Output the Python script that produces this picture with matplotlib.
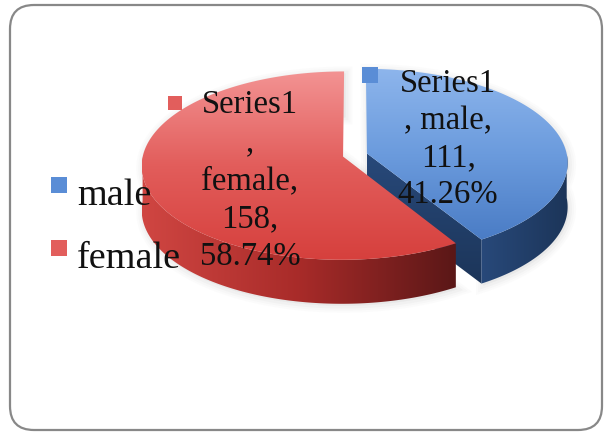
import numpy as np
import matplotlib.pyplot as plt
from matplotlib.patches import Polygon, FancyBboxPatch, Rectangle
from matplotlib.colors import LinearSegmentedColormap

# data
categories = ["male", "female"]
counts = [111, 158]
series_name = "Series1"
# how each data label breaks: True -> ", male," on one line, False -> "," then "female,"
comma_joined = [True, False]

top_colors = [["#8DB5EC", "#6B9BDD", "#4A7CC5"], ["#F39393", "#E25D5B", "#D6403D"]]
side_colors = [["#28497A", "#1C3559"], ["#D04642", "#A82B29", "#5A1717"]]
key_colors = ["#5A8DD6", "#E25E5C"]

fig = plt.figure(figsize=(6.05, 4.35), dpi=100)
ax = fig.add_axes([0, 0, 1, 1])
ax.axis("off")

# projection of the pie disc (u right, v towards the back) onto the canvas
CX, CY = 355.0, 156.0
A, B = 200.0, 93.0
P = 0.096
DEPTH = 44.0
EXPLODE = 0.062


def proj(u, v):
    w = 1 + P * v
    return CX + A * u / w, CY - B * v / w


def shade(verts, colors, horizontal=False, zorder=2):
    verts = np.asarray(verts)
    x0, y0 = verts.min(axis=0)
    x1, y1 = verts.max(axis=0)
    cmap = LinearSegmentedColormap.from_list("g", colors)
    g = np.linspace(0, 1, 256)
    z = g[None, :] if horizontal else g[:, None]
    poly = Polygon(verts, closed=True, fc="none", ec="none")
    ax.add_patch(poly)
    im = ax.imshow(z, cmap=cmap, extent=(x0, x1, y1, y0), origin="upper",
                   aspect="auto", interpolation="bilinear", zorder=zorder)
    im.set_clip_path(poly)


fracs = np.array(counts) / sum(counts)
start = 90.0
slices = []
for i, f in enumerate(fracs):
    t1 = start
    t2 = start - 360 * f
    start = t2
    mid = np.radians((t1 + t2) / 2)
    ex, ey = EXPLODE * np.cos(mid), EXPLODE * np.sin(mid)
    ts = np.radians(np.linspace(t1, t2, 200))
    rim = np.array([proj(ex + np.cos(t), ey + np.sin(t)) for t in ts])
    apex = np.array(proj(ex, ey))
    slices.append(dict(t1=t1, t2=t2, ex=ex, ey=ey, rim=rim, apex=apex))

down = np.array([0, DEPTH])

# soft shadow under both slices
for s in slices:
    sil = np.vstack([s["apex"], s["rim"], s["rim"][::-1] + down, s["apex"] + down])
    for lw, a in [(10, 0.03), (7, 0.04), (4, 0.06)]:
        ax.add_patch(Polygon(sil + [1.5, 2], closed=True, fc="#bbbbbb", ec="#999999",
                             lw=lw, alpha=a, zorder=1))

for i, s in enumerate(slices):
    z = 2 + 3 * i
    apex, rim = s["apex"], s["rim"]
    ts = np.linspace(s["t1"], s["t2"], 200)
    ts_n = np.mod(ts, 360)
    front = rim[(ts_n > 180) & (ts_n < 360)]
    # cut face facing the viewer (end edge of the first slice)
    if i == 0:
        end = rim[-1]
        face = np.array([apex, end, end + down, apex + down])
        shade(face, side_colors[i], zorder=z)
    if len(front):
        side = np.vstack([front, front[::-1] + down])
        shade(side, side_colors[i], horizontal=True, zorder=z + 1)
    top = np.vstack([apex, rim])
    shade(top, top_colors[i], zorder=z + 2)

# data labels
font = "Liberation Serif"
label_fs = 23.5
label_pos = [(448, 92, 37), (250, 113, 38)]
key_offset = [(-86, -24, 16), (-82, -16, 14)]
for i, cat in enumerate(categories):
    pct = f"{fracs[i] * 100:.2f}%"
    if comma_joined[i]:
        lines = [series_name, f", {cat},", f"{counts[i]},", pct]
    else:
        lines = [series_name, ",", f"{cat},", f"{counts[i]},", pct]
    x, y, step = label_pos[i]
    for k, ln in enumerate(lines):
        ax.text(x, y + k * step, ln, ha="center", va="baseline",
                family=font, fontsize=label_fs, color="#111111", zorder=20)
    # small legend key in front of the series name
    dx, dy, sz = key_offset[i]
    ax.add_patch(Rectangle((x + dx, y + dy), sz, sz, fc=key_colors[i], ec="none", zorder=20))

# legend
legend_y = [205, 268]
for i, cat in enumerate(categories):
    ax.add_patch(Rectangle((51, legend_y[i] - 27), 16, 16, fc=key_colors[i], ec="none", zorder=20))
    ax.text(77, legend_y[i], cat, ha="left", va="baseline", family=font,
            fontsize=27.5, color="#111111", zorder=20)

# chart area border
ax.add_patch(FancyBboxPatch((10, 6), 592, 425, boxstyle="round,pad=0,rounding_size=24",
                            fc="none", ec="#888888", lw=1.6, zorder=30))

ax.set_xlim(0, 605)
ax.set_ylim(435, 0)
fig.savefig("out.png", dpi=100)
